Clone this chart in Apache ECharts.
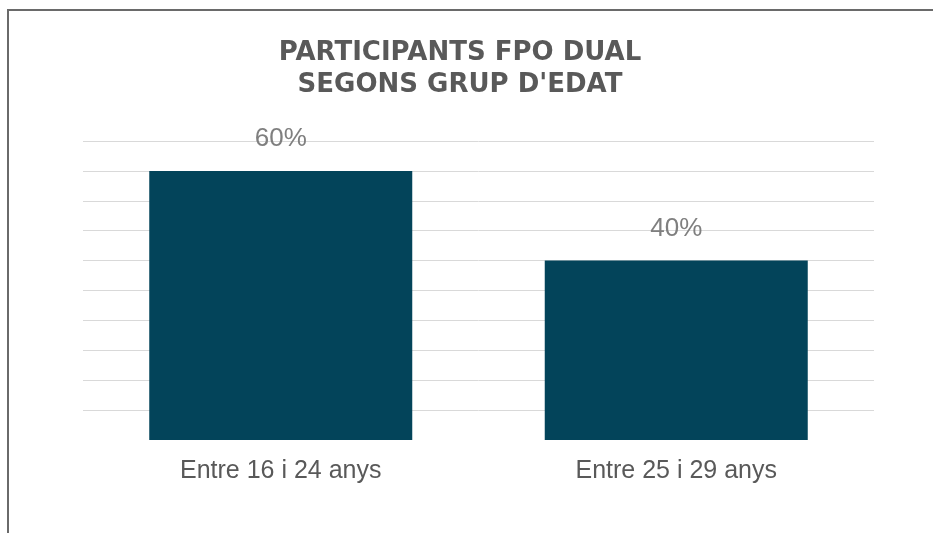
<!DOCTYPE html>
<html>
<head>
<meta charset="utf-8">
<title>Participants FPO Dual</title>
<script src="https://cdn.jsdelivr.net/npm/echarts@6/dist/echarts.min.js"></script>
<style>
  html, body { margin: 0; padding: 0; background: #fff; }
  #chart { position: absolute; left: 0; top: 0; width: 933px; height: 533px; }
  #frame {
    position: absolute; left: 7px; top: 9px; right: -10px; bottom: -10px;
    border-top: 2px solid #6a6a6a; border-left: 2px solid #6a6a6a;
    pointer-events: none;
  }
</style>
</head>
<body>
<div id="chart"></div>
<div id="frame"></div>
<script>
// dades
const categories = ['Entre 16 i 24 anys', 'Entre 25 i 29 anys']
const percentages = [60, 40]
const titleText = "PARTICIPANTS FPO DUAL\nSEGONS GRUP D'EDAT"

const chart = echarts.init(document.getElementById('chart'))
chart.setOption({
  animation: false,
  title: {
    text: titleText,
    left: 460,
    top: 37,
    padding: 0,
    textAlign: 'center',
    textStyle: {
      fontFamily: 'DejaVu Sans',
      fontWeight: 'bold',
      fontSize: 26,
      lineHeight: 32,
      color: '#595959'
    }
  },
  grid: {
    left: 83,
    right: 59,
    top: 141,
    bottom: 93
  },
  xAxis: {
    type: 'category',
    data: categories,
    axisLine: { show: false },
    axisTick: { show: false },
    axisLabel: {
      margin: 19,
      fontFamily: 'Liberation Sans',
      fontSize: 25,
      color: '#595959'
    }
  },
  yAxis: {
    type: 'value',
    min: 0,
    max: 66.667,
    interval: 6.6667,
    axisLine: { show: false },
    axisTick: { show: false },
    axisLabel: { show: false },
    splitLine: {
      show: true,
      showMinLine: false,
      lineStyle: { color: '#d9d9d9', width: 1 }
    }
  },
  series: [
    {
      type: 'bar',
      data: percentages,
      barWidth: '66.5%',
      itemStyle: { color: '#03445a' },
      label: {
        show: true,
        position: 'top',
        distance: 19,
        formatter: '{c}%',
        fontFamily: 'Liberation Sans',
        fontSize: 26,
        color: '#7f7f7f'
      }
    }
  ]
})
</script>
</body>
</html>
